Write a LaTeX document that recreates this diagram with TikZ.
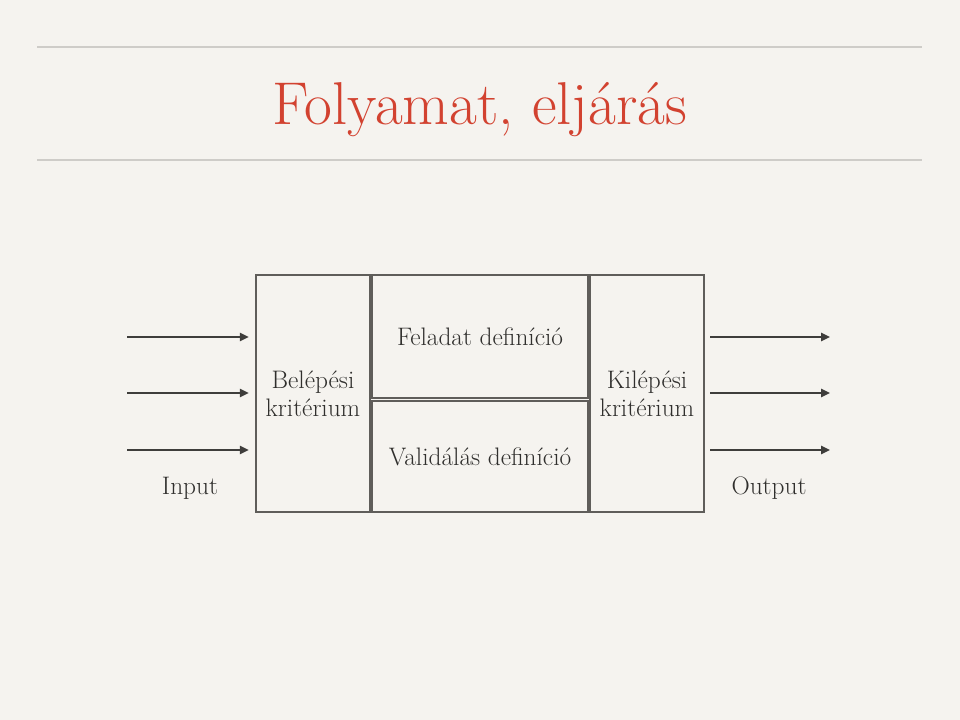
\documentclass[tikz,border=0pt]{standalone}
\usepackage{fontspec}
\usetikzlibrary{arrows.meta}

\definecolor{titlered}{RGB}{210,66,48}
\definecolor{boxgray}{RGB}{95,93,90}
\definecolor{arrowgray}{RGB}{62,61,59}
\definecolor{rulegray}{RGB}{206,204,200}
\definecolor{inkgray}{RGB}{48,47,45}
\definecolor{paper}{RGB}{245,243,239}
\definecolor{papermid}{RGB}{232,230,226}

\begin{document}
\begin{tikzpicture}[x=0.025cm,y=-0.025cm,
    stage/.style={draw=boxgray,line width=1.7pt,align=center,inner sep=0pt,
      text=inkgray,font=\fontsize{18}{20}\selectfont},
    flow/.style={draw=arrowgray,line width=1.8pt,-{Triangle[length=0.22cm,width=0.2cm]}},
    caption/.style={text=inkgray,anchor=base,font=\fontsize{18}{20}\selectfont}]
    % paper background and rules
    \shade[top color=paper,middle color=papermid,bottom color=paper] (0,0) rectangle (960,720);
    \draw[rulegray,line width=0.8pt] (37,47) -- (922,47);
    \draw[rulegray,line width=0.8pt] (37,160) -- (922,160);
    \node[anchor=base,text=titlered,font=\fontsize{43}{48}\selectfont] (title) at (480,125)
      {Folyamat, eljárás};
    % the four blocks
    \node[stage,minimum width=2.85cm,minimum height=5.925cm] (entry) at (313,393.5) {Belépési\\kritérium};
    \node[stage,minimum width=5.4cm,minimum height=3.075cm] (task) at (480,336.5) {Feladat definíció};
    \node[stage,minimum width=5.4cm,minimum height=2.775cm] (valid) at (480,456.5) {Validálás definíció};
    \node[stage,minimum width=2.85cm,minimum height=5.925cm] (exit) at (647,393.5) {Kilépési\\kritérium};
    % inputs and outputs
    \foreach \i/\y in {1/337,2/393,3/450} {
      \coordinate (in\i) at (127,\y);
      \coordinate (out\i) at (830,\y);
      \draw[flow,shorten >=0.15cm] (in\i) -- (entry.west |- in\i);
      \draw[flow,shorten <=0.12cm] (exit.east |- out\i) -- (out\i);
    }
    \node[caption] (input) at (190,495) {Input};
    \node[caption] (output) at (769,495) {Output};
\end{tikzpicture}
\end{document}
